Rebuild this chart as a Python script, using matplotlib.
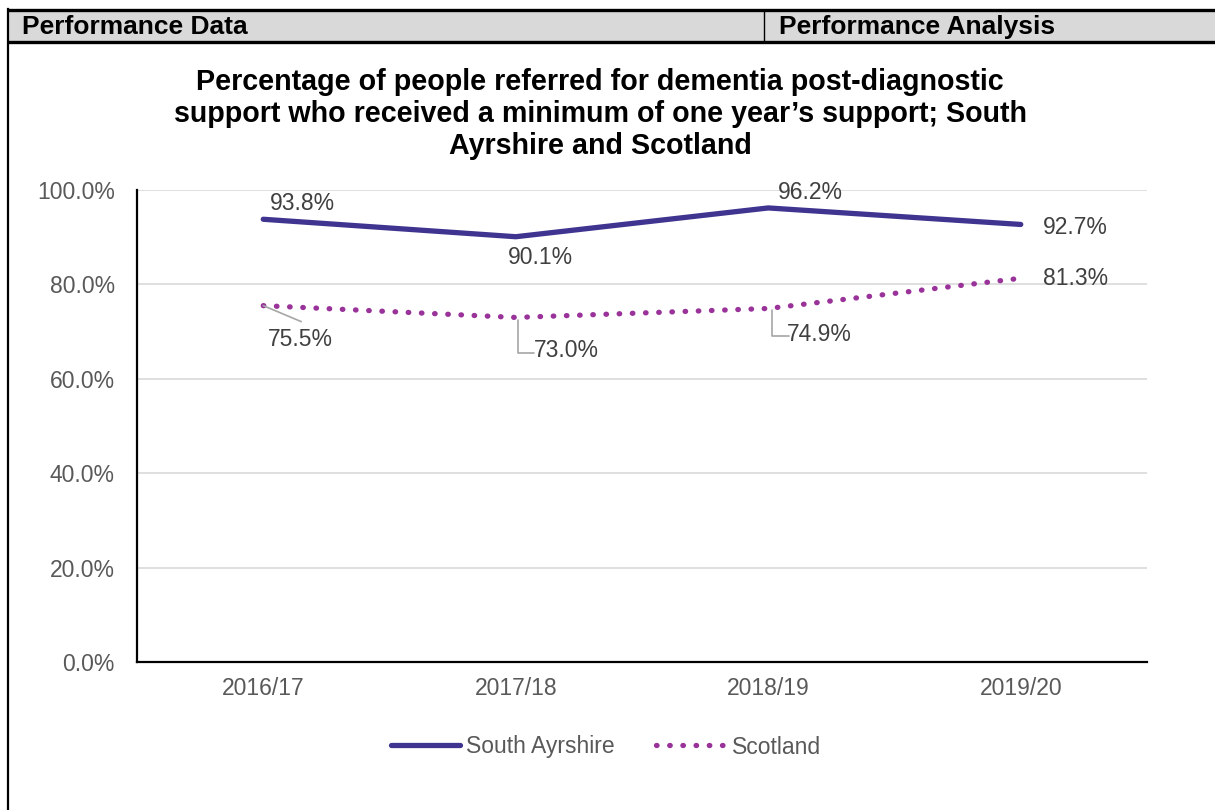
import matplotlib
matplotlib.use("Agg")
import matplotlib.pyplot as plt
from matplotlib.patches import Rectangle
from matplotlib.lines import Line2D

plt.rcParams['font.family'] = ['Liberation Sans', 'DejaVu Sans']

# data
years = ["2016/17", "2017/18", "2018/19", "2019/20"]
south_ayrshire = [93.8, 90.1, 96.2, 92.7]
scotland = [75.5, 73.0, 74.9, 81.3]
yticks = [0, 20, 40, 60, 80, 100]

sa_col = "#3f3590"
sc_col = "#993399"
grey_txt = "#595959"
fs = 16.5

W, H = 1215, 810
fig = plt.figure(figsize=(W / 100, H / 100), dpi=100)

# background overlay in pixel coords for the table frame
bg = fig.add_axes([0, 0, 1, 1])
bg.set_xlim(0, W)
bg.set_ylim(H, 0)
bg.axis("off")
bg.add_patch(Rectangle((8, 10), W - 8, 32, facecolor="#d9d9d9", edgecolor="none"))
bg.plot([8, W], [10, 10], color="black", lw=2.4, solid_capstyle="butt")
bg.plot([8, W], [42, 42], color="black", lw=2.4, solid_capstyle="butt")
bg.plot([8, 8], [9, H], color="black", lw=1.6)
bg.plot([764, 764], [10, 42], color="black", lw=1.0)
bg.text(22, 27, "Performance Data", fontsize=19, fontweight="bold", va="center", ha="left")
bg.text(779, 27, "Performance Analysis", fontsize=19, fontweight="bold", va="center", ha="left")

bg.text(600, 114, "Percentage of people referred for dementia post-diagnostic\n"
        "support who received a minimum of one year\u2019s support; South\n"
        "Ayrshire and Scotland", fontsize=20.6, fontweight="bold",
        ha="center", va="center", linespacing=1.2)

ax = fig.add_axes([137 / W, 1 - 662 / H, (1147 - 137) / W, (662 - 190) / H])
x = [i + 0.5 for i in range(len(years))]
dots = (0, (0.1, 2.4))
ax.plot(x, south_ayrshire, color=sa_col, lw=3.8, solid_capstyle="round", solid_joinstyle="round",
        label="South Ayrshire", zorder=3)
ax.plot(x, scotland, color=sc_col, lw=3.8, linestyle=dots, dash_capstyle="round",
        label="Scotland", zorder=3)

ax.set_xlim(0, 4)
ax.set_ylim(0, 100)
ax.set_yticks(yticks)
ax.set_yticklabels([f"{v:.1f}%" for v in yticks])
ax.set_xticks(x)
ax.set_xticklabels(years)
ax.tick_params(length=0, labelsize=fs, labelcolor=grey_txt)
ax.tick_params(axis="y", pad=16)
ax.tick_params(axis="x", pad=11)
for v in yticks[1:]:
    ax.axhline(v, color="#d9d9d9", lw=1.2, zorder=1)
for s in ["top", "right"]:
    ax.spines[s].set_visible(False)
ax.spines["left"].set_linewidth(1.6)
ax.spines["bottom"].set_linewidth(1.6)

lab = dict(fontsize=fs, color="#404040", textcoords="offset pixels", va="center")
# South Ayrshire labels
ax.annotate(f"{south_ayrshire[0]:.1f}%", (x[0], south_ayrshire[0]), xytext=(39, 16), ha="center", **lab)
ax.annotate(f"{south_ayrshire[1]:.1f}%", (x[1], south_ayrshire[1]), xytext=(25, -21), ha="center", **lab)
ax.annotate(f"{south_ayrshire[2]:.1f}%", (x[2], south_ayrshire[2]), xytext=(42, 15), ha="center", **lab)
ax.annotate(f"{south_ayrshire[3]:.1f}%", (x[3], south_ayrshire[3]), xytext=(22, -3), ha="left", **lab)

# Scotland labels with leader lines
lead = dict(arrowstyle="-", color="#a6a6a6", lw=1.2, shrinkA=0, shrinkB=0)
elbow = dict(lead, connectionstyle="angle,angleA=0,angleB=90,rad=0")
ax.annotate(f"{scotland[0]:.1f}%", (x[0], scotland[0]), xytext=(37, -34), ha="center", **lab)
ax.annotate("", (x[0], scotland[0]), xytext=(38, -16), textcoords="offset pixels", arrowprops=lead)
ax.annotate(f"{scotland[1]:.1f}%", (x[1], scotland[1]), xytext=(18, -33), ha="left", **lab)
ax.annotate("", (x[1] + 0.008, scotland[1] - 0.6), xytext=(16, -33), textcoords="offset pixels", arrowprops=elbow)
ax.annotate(f"{scotland[2]:.1f}%", (x[2], scotland[2]), xytext=(19, -26), ha="left", **lab)
ax.annotate("", (x[2] + 0.014, scotland[2] - 0.4), xytext=(17, -26), textcoords="offset pixels", arrowprops=elbow)
ax.annotate(f"{scotland[3]:.1f}%", (x[3], scotland[3]), xytext=(22, 0), ha="left", **lab)

handles = [Line2D([], [], color=sa_col, lw=3.8, solid_capstyle="round"),
           Line2D([], [], color=sc_col, lw=3.8, linestyle=dots, dash_capstyle="round")]
fig.legend(handles, ["South Ayrshire", "Scotland"], loc="center", bbox_to_anchor=(606 / W, 1 - 747 / H),
           ncol=2, frameon=False, fontsize=fs, labelcolor=grey_txt, handlelength=3.0,
           handletextpad=0.3, columnspacing=1.8)

fig.savefig("out.png", dpi=100)
